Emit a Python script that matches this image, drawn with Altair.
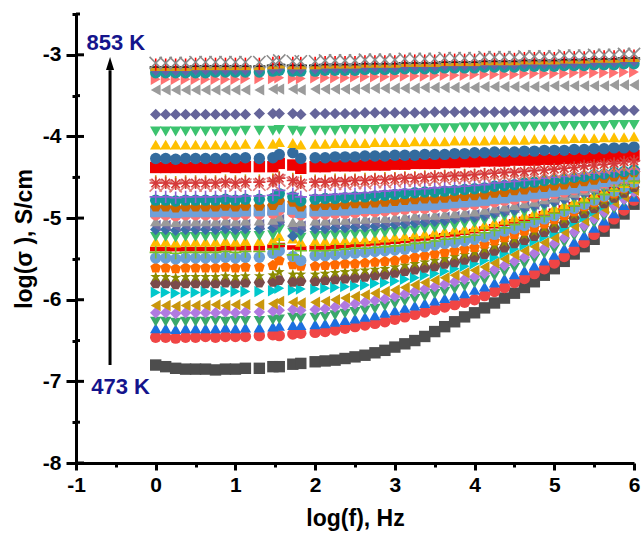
import altair as alt
import pandas as pd

FONT = "Liberation Sans"

# log(f) positions of the measured points
freq = [0.0, 0.125, 0.25, 0.375, 0.5, 0.625, 0.75, 0.875, 1.0, 1.125,
        1.3, 1.47, 1.55, 1.72, 1.82,
        2.0, 2.125, 2.25, 2.375, 2.5, 2.625, 2.75, 2.875, 3.0,
        3.125, 3.25, 3.375, 3.5, 3.625, 3.75, 3.875, 4.0,
        4.125, 4.25, 4.375, 4.5, 4.625, 4.75, 4.875, 5.0,
        5.125, 5.25, 5.375, 5.5, 5.625, 5.75, 5.875, 6.0]

# log(sigma) for each temperature, lowest (473 K) first
s01 = [-6.80, -6.82, -6.84, -6.85, -6.85, -6.85, -6.86, -6.85, -6.85, -6.84,
       -6.84, -6.82, -6.82, -6.79, -6.78,
       -6.76, -6.75, -6.74, -6.72, -6.70, -6.68, -6.65, -6.62, -6.58,
       -6.54, -6.50, -6.45, -6.39, -6.33, -6.27, -6.21, -6.16,
       -6.10, -6.04, -5.98, -5.92, -5.85, -5.78, -5.70, -5.62,
       -5.53, -5.44, -5.35, -5.26, -5.16, -5.06, -4.95, -4.83]
s02 = [-6.46, -6.46, -6.47, -6.46, -6.46, -6.45, -6.46, -6.45, -6.45, -6.45,
       -6.44, -6.43, -6.44, -6.42, -6.41,
       -6.40, -6.39, -6.37, -6.35, -6.33, -6.31, -6.29, -6.27, -6.24,
       -6.21, -6.18, -6.15, -6.12, -6.09, -6.06, -6.03, -6.00,
       -5.95, -5.90, -5.85, -5.79, -5.74, -5.68, -5.62, -5.55,
       -5.47, -5.39, -5.30, -5.20, -5.11, -5.01, -4.90, -4.78]
s03 = [-6.35, -6.35, -6.36, -6.35, -6.35, -6.35, -6.35, -6.34, -6.35, -6.34,
       -6.34, -6.33, -6.32, -6.31, -6.31,
       -6.30, -6.29, -6.27, -6.25, -6.23, -6.21, -6.19, -6.16, -6.13,
       -6.10, -6.07, -6.04, -6.01, -5.98, -5.95, -5.92, -5.88,
       -5.84, -5.79, -5.74, -5.69, -5.64, -5.58, -5.52, -5.45,
       -5.37, -5.29, -5.21, -5.12, -5.03, -4.94, -4.84, -4.74]
s04 = [-6.27, -6.27, -6.28, -6.27, -6.27, -6.27, -6.26, -6.27, -6.26, -6.26,
       -6.26, -6.25, -6.24, -6.22, -6.23,
       -6.22, -6.21, -6.19, -6.17, -6.15, -6.13, -6.11, -6.08, -6.05,
       -6.02, -5.99, -5.96, -5.93, -5.90, -5.87, -5.84, -5.80,
       -5.76, -5.71, -5.66, -5.61, -5.56, -5.50, -5.44, -5.38,
       -5.30, -5.22, -5.14, -5.06, -4.98, -4.89, -4.80, -4.71]
s05 = [-6.16, -6.16, -6.17, -6.16, -6.16, -6.16, -6.16, -6.15, -6.16, -6.15,
       -6.15, -6.14, -6.13, -6.12, -6.13,
       -6.12, -6.11, -6.09, -6.07, -6.05, -6.03, -6.01, -5.99, -5.96,
       -5.93, -5.90, -5.87, -5.84, -5.81, -5.78, -5.75, -5.72,
       -5.68, -5.63, -5.58, -5.53, -5.48, -5.43, -5.37, -5.31,
       -5.24, -5.17, -5.09, -5.01, -4.93, -4.85, -4.77, -4.68]
s06 = [-6.07, -6.07, -6.08, -6.07, -6.07, -6.07, -6.06, -6.07, -6.06, -6.06,
       -6.06, -6.05, -6.02, -6.03, -6.04,
       -6.03, -6.02, -6.00, -5.98, -5.96, -5.94, -5.92, -5.90, -5.88,
       -5.85, -5.82, -5.79, -5.76, -5.73, -5.70, -5.67, -5.64,
       -5.60, -5.55, -5.50, -5.45, -5.40, -5.35, -5.30, -5.24,
       -5.17, -5.10, -5.03, -4.96, -4.89, -4.81, -4.74, -4.66]
s07 = [-5.91, -5.91, -5.92, -5.91, -5.91, -5.90, -5.91, -5.90, -5.90, -5.90,
       -5.90, -5.89, -5.86, -5.88, -5.87,
       -5.87, -5.86, -5.85, -5.84, -5.83, -5.82, -5.80, -5.79, -5.77,
       -5.75, -5.73, -5.70, -5.68, -5.65, -5.62, -5.59, -5.56,
       -5.52, -5.48, -5.43, -5.38, -5.33, -5.28, -5.23, -5.18,
       -5.12, -5.05, -4.99, -4.92, -4.85, -4.78, -4.71, -4.64]
s08 = [-5.80, -5.80, -5.81, -5.80, -5.80, -5.80, -5.80, -5.79, -5.80, -5.79,
       -5.79, -5.78, -5.76, -5.78, -5.77,
       -5.77, -5.76, -5.75, -5.74, -5.73, -5.72, -5.70, -5.69, -5.67,
       -5.65, -5.63, -5.61, -5.59, -5.56, -5.54, -5.51, -5.48,
       -5.44, -5.40, -5.36, -5.31, -5.27, -5.22, -5.17, -5.12,
       -5.06, -5.00, -4.94, -4.88, -4.82, -4.75, -4.69, -4.62]
s09 = [-5.72, -5.72, -5.73, -5.72, -5.72, -5.72, -5.72, -5.71, -5.72, -5.71,
       -5.71, -5.70, -5.66, -5.69, -5.69,
       -5.69, -5.68, -5.67, -5.66, -5.65, -5.64, -5.63, -5.62, -5.60,
       -5.58, -5.56, -5.54, -5.52, -5.50, -5.47, -5.45, -5.42,
       -5.38, -5.34, -5.30, -5.26, -5.21, -5.17, -5.12, -5.07,
       -5.02, -4.96, -4.91, -4.85, -4.79, -4.73, -4.67, -4.60]
s10 = [-5.61, -5.61, -5.62, -5.61, -5.61, -5.61, -5.61, -5.60, -5.61, -5.60,
       -5.60, -5.58, -5.52, -5.57, -5.59,
       -5.59, -5.58, -5.57, -5.56, -5.56, -5.55, -5.54, -5.53, -5.52,
       -5.50, -5.48, -5.46, -5.44, -5.42, -5.40, -5.38, -5.36,
       -5.32, -5.28, -5.24, -5.20, -5.16, -5.12, -5.07, -5.02,
       -4.97, -4.92, -4.86, -4.81, -4.75, -4.70, -4.64, -4.58]
s11 = [-5.49, -5.49, -5.50, -5.49, -5.49, -5.49, -5.49, -5.48, -5.49, -5.48,
       -5.48, -5.43, -5.40, -5.47, -5.52,
       -5.46, -5.46, -5.45, -5.44, -5.43, -5.42, -5.41, -5.40, -5.39,
       -5.38, -5.36, -5.35, -5.33, -5.31, -5.30, -5.28, -5.26,
       -5.23, -5.20, -5.16, -5.13, -5.09, -5.05, -5.01, -4.97,
       -4.92, -4.88, -4.83, -4.78, -4.73, -4.67, -4.62, -4.56]
s12 = [-5.42, -5.42, -5.43, -5.42, -5.42, -5.42, -5.42, -5.41, -5.42, -5.41,
       -5.41, -5.38, -5.32, -5.45, -5.40,
       -5.40, -5.40, -5.39, -5.38, -5.37, -5.37, -5.36, -5.35, -5.34,
       -5.33, -5.31, -5.30, -5.28, -5.26, -5.25, -5.23, -5.21,
       -5.18, -5.15, -5.12, -5.08, -5.05, -5.01, -4.98, -4.94,
       -4.90, -4.85, -4.81, -4.76, -4.71, -4.66, -4.60, -4.55]
s13 = [-5.38, -5.38, -5.38, -5.38, -5.38, -5.38, -5.38, -5.37, -5.37, -5.37,
       -5.37, -5.35, -5.33, -5.36, -5.37,
       -5.36, -5.36, -5.35, -5.34, -5.33, -5.32, -5.31, -5.30, -5.29,
       -5.28, -5.26, -5.25, -5.23, -5.21, -5.20, -5.18, -5.16,
       -5.13, -5.10, -5.07, -5.04, -5.01, -4.98, -4.94, -4.91,
       -4.87, -4.83, -4.78, -4.74, -4.69, -4.64, -4.59, -4.54]
s14 = [-5.29, -5.29, -5.30, -5.29, -5.29, -5.29, -5.29, -5.28, -5.29, -5.28,
       -5.28, -5.27, -5.22, -5.25, -5.29,
       -5.28, -5.28, -5.27, -5.27, -5.26, -5.26, -5.25, -5.24, -5.23,
       -5.22, -5.20, -5.19, -5.17, -5.16, -5.14, -5.13, -5.11,
       -5.08, -5.05, -5.02, -4.99, -4.96, -4.93, -4.90, -4.87,
       -4.83, -4.79, -4.75, -4.71, -4.66, -4.62, -4.57, -4.52]
s15 = [-5.23, -5.23, -5.24, -5.23, -5.23, -5.23, -5.23, -5.22, -5.23, -5.22,
       -5.22, -5.21, -5.14, -5.18, -5.24,
       -5.22, -5.22, -5.21, -5.21, -5.20, -5.20, -5.19, -5.18, -5.17,
       -5.16, -5.15, -5.13, -5.12, -5.10, -5.09, -5.07, -5.06,
       -5.03, -5.00, -4.98, -4.95, -4.93, -4.90, -4.87, -4.84,
       -4.80, -4.77, -4.73, -4.69, -4.65, -4.60, -4.56, -4.51]
s16 = [-5.14, -5.14, -5.15, -5.14, -5.14, -5.14, -5.14, -5.13, -5.14, -5.13,
       -5.13, -5.12, -5.05, -5.22, -5.15,
       -5.13, -5.13, -5.12, -5.12, -5.11, -5.11, -5.10, -5.09, -5.08,
       -5.07, -5.06, -5.05, -5.04, -5.03, -5.01, -5.00, -4.99,
       -4.97, -4.94, -4.92, -4.90, -4.87, -4.85, -4.82, -4.80,
       -4.77, -4.73, -4.70, -4.66, -4.62, -4.58, -4.54, -4.50]
s17 = [-5.09, -5.09, -5.10, -5.09, -5.09, -5.09, -5.09, -5.08, -5.09, -5.08,
       -5.08, -5.07, -5.02, -5.12, -5.10,
       -5.08, -5.08, -5.07, -5.07, -5.06, -5.06, -5.05, -5.05, -5.04,
       -5.03, -5.02, -5.01, -5.00, -4.99, -4.98, -4.97, -4.96,
       -4.94, -4.92, -4.90, -4.87, -4.85, -4.83, -4.80, -4.78,
       -4.75, -4.72, -4.68, -4.65, -4.61, -4.57, -4.53, -4.49]
s18 = [-5.04, -5.04, -5.05, -5.04, -5.04, -5.04, -5.04, -5.03, -5.04, -5.03,
       -5.03, -5.02, -4.98, -5.05, -5.04,
       -5.03, -5.03, -5.02, -5.02, -5.01, -5.01, -5.00, -5.00, -4.99,
       -4.98, -4.97, -4.96, -4.96, -4.95, -4.94, -4.93, -4.92,
       -4.90, -4.88, -4.86, -4.84, -4.82, -4.80, -4.77, -4.75,
       -4.72, -4.69, -4.66, -4.63, -4.59, -4.56, -4.52, -4.48]
s19 = [-4.96, -4.96, -4.97, -4.96, -4.96, -4.96, -4.96, -4.95, -4.96, -4.95,
       -4.95, -4.94, -4.90, -4.93, -4.96,
       -4.95, -4.95, -4.94, -4.94, -4.93, -4.92, -4.92, -4.91, -4.90,
       -4.89, -4.88, -4.88, -4.87, -4.86, -4.85, -4.84, -4.83,
       -4.82, -4.80, -4.78, -4.77, -4.75, -4.74, -4.72, -4.70,
       -4.68, -4.65, -4.63, -4.60, -4.57, -4.54, -4.51, -4.47]
s20 = [-4.92, -4.92, -4.93, -4.92, -4.92, -4.92, -4.92, -4.91, -4.92, -4.91,
       -4.91, -4.90, -4.86, -4.89, -4.93,
       -4.91, -4.91, -4.90, -4.90, -4.89, -4.88, -4.88, -4.87, -4.86,
       -4.85, -4.84, -4.84, -4.83, -4.82, -4.81, -4.80, -4.79,
       -4.78, -4.76, -4.75, -4.73, -4.72, -4.70, -4.69, -4.67,
       -4.65, -4.63, -4.60, -4.58, -4.55, -4.52, -4.49, -4.46]
s21 = [-4.86, -4.86, -4.87, -4.86, -4.86, -4.86, -4.86, -4.85, -4.86, -4.85,
       -4.85, -4.84, -4.78, -4.80, -4.86,
       -4.85, -4.84, -4.84, -4.83, -4.82, -4.82, -4.81, -4.80, -4.79,
       -4.78, -4.77, -4.76, -4.76, -4.75, -4.74, -4.73, -4.72,
       -4.71, -4.69, -4.68, -4.66, -4.65, -4.63, -4.62, -4.60,
       -4.59, -4.57, -4.55, -4.53, -4.51, -4.49, -4.47, -4.44]
s22 = [-4.78, -4.78, -4.79, -4.78, -4.78, -4.78, -4.78, -4.77, -4.78, -4.77,
       -4.77, -4.76, -4.70, -4.74, -4.79,
       -4.77, -4.76, -4.76, -4.75, -4.74, -4.74, -4.73, -4.72, -4.71,
       -4.70, -4.69, -4.68, -4.68, -4.67, -4.66, -4.65, -4.64,
       -4.63, -4.61, -4.60, -4.59, -4.57, -4.56, -4.54, -4.53,
       -4.52, -4.50, -4.49, -4.47, -4.46, -4.44, -4.43, -4.41]
s23 = [-4.74, -4.74, -4.75, -4.74, -4.74, -4.74, -4.74, -4.73, -4.74, -4.73,
       -4.73, -4.72, -4.66, -4.70, -4.74,
       -4.72, -4.72, -4.71, -4.70, -4.70, -4.69, -4.68, -4.67, -4.66,
       -4.65, -4.65, -4.64, -4.63, -4.62, -4.62, -4.61, -4.60,
       -4.59, -4.57, -4.56, -4.55, -4.54, -4.53, -4.51, -4.50,
       -4.49, -4.48, -4.46, -4.45, -4.44, -4.43, -4.41, -4.40]
s24 = [-4.60, -4.60, -4.61, -4.60, -4.60, -4.60, -4.60, -4.59, -4.60, -4.59,
       -4.59, -4.58, -4.54, -4.57, -4.60,
       -4.59, -4.59, -4.58, -4.58, -4.57, -4.57, -4.56, -4.56, -4.55,
       -4.54, -4.54, -4.53, -4.53, -4.52, -4.51, -4.51, -4.50,
       -4.49, -4.48, -4.48, -4.47, -4.46, -4.45, -4.45, -4.44,
       -4.43, -4.42, -4.41, -4.40, -4.39, -4.38, -4.37, -4.36]
s25 = [-4.55, -4.55, -4.56, -4.55, -4.55, -4.55, -4.55, -4.54, -4.55, -4.54,
       -4.54, -4.53, -4.50, -4.52, -4.55,
       -4.54, -4.54, -4.53, -4.53, -4.53, -4.52, -4.52, -4.51, -4.51,
       -4.50, -4.50, -4.49, -4.49, -4.48, -4.48, -4.47, -4.47,
       -4.46, -4.46, -4.45, -4.44, -4.44, -4.43, -4.43, -4.42,
       -4.41, -4.40, -4.39, -4.38, -4.37, -4.36, -4.35, -4.34]
s26 = [-4.57, -4.57, -4.58, -4.57, -4.57, -4.57, -4.57, -4.56, -4.57, -4.56,
       -4.56, -4.55, -4.51, -4.54, -4.57,
       -4.56, -4.56, -4.55, -4.55, -4.54, -4.54, -4.53, -4.53, -4.52,
       -4.51, -4.51, -4.50, -4.49, -4.49, -4.48, -4.48, -4.47,
       -4.46, -4.45, -4.44, -4.44, -4.43, -4.42, -4.41, -4.40,
       -4.39, -4.38, -4.36, -4.35, -4.34, -4.33, -4.31, -4.30]
s27 = [-4.38, -4.38, -4.38, -4.38, -4.38, -4.38, -4.38, -4.37, -4.38, -4.37,
       -4.37, -4.37, -4.33, -4.35, -4.39,
       -4.37, -4.37, -4.36, -4.36, -4.36, -4.35, -4.35, -4.35, -4.34,
       -4.34, -4.33, -4.33, -4.33, -4.32, -4.32, -4.31, -4.31,
       -4.30, -4.30, -4.30, -4.29, -4.29, -4.29, -4.28, -4.28,
       -4.27, -4.27, -4.26, -4.26, -4.25, -4.25, -4.24, -4.23]
s28 = [-4.27, -4.27, -4.28, -4.27, -4.27, -4.27, -4.27, -4.27, -4.27, -4.26,
       -4.27, -4.26, -4.22, -4.20, -4.27,
       -4.26, -4.26, -4.25, -4.25, -4.25, -4.24, -4.24, -4.24, -4.23,
       -4.23, -4.23, -4.22, -4.22, -4.22, -4.21, -4.21, -4.20,
       -4.20, -4.19, -4.19, -4.19, -4.18, -4.18, -4.17, -4.17,
       -4.17, -4.16, -4.16, -4.15, -4.15, -4.14, -4.14, -4.13]
s29 = [-4.10, -4.10, -4.10, -4.10, -4.10, -4.10, -4.10, -4.10, -4.10, -4.09,
       -4.09, -4.09, -4.07, -4.08, -4.10,
       -4.09, -4.09, -4.08, -4.08, -4.08, -4.08, -4.07, -4.07, -4.07,
       -4.07, -4.06, -4.06, -4.06, -4.06, -4.05, -4.05, -4.05,
       -4.05, -4.04, -4.04, -4.04, -4.04, -4.03, -4.03, -4.03,
       -4.03, -4.02, -4.02, -4.02, -4.01, -4.01, -4.01, -4.00]
s30 = [-3.94, -3.94, -3.94, -3.94, -3.94, -3.94, -3.94, -3.94, -3.94, -3.93,
       -3.93, -3.93, -3.92, -3.93, -3.94,
       -3.93, -3.93, -3.93, -3.92, -3.92, -3.92, -3.92, -3.91, -3.91,
       -3.91, -3.91, -3.90, -3.90, -3.90, -3.90, -3.89, -3.89,
       -3.89, -3.89, -3.89, -3.88, -3.88, -3.88, -3.88, -3.88,
       -3.87, -3.87, -3.87, -3.87, -3.87, -3.86, -3.86, -3.86]
s31 = [-3.73, -3.73, -3.73, -3.73, -3.73, -3.73, -3.73, -3.73, -3.73, -3.73,
       -3.72, -3.72, -3.72, -3.72, -3.73,
       -3.72, -3.72, -3.72, -3.72, -3.72, -3.71, -3.71, -3.71, -3.71,
       -3.71, -3.71, -3.71, -3.70, -3.70, -3.70, -3.70, -3.70,
       -3.70, -3.70, -3.70, -3.69, -3.69, -3.69, -3.69, -3.69,
       -3.69, -3.69, -3.69, -3.68, -3.68, -3.68, -3.68, -3.68]
s32 = [-3.43, -3.43, -3.43, -3.43, -3.43, -3.43, -3.43, -3.43, -3.43, -3.43,
       -3.43, -3.42, -3.42, -3.42, -3.43,
       -3.42, -3.42, -3.42, -3.42, -3.42, -3.41, -3.41, -3.41, -3.41,
       -3.41, -3.41, -3.40, -3.40, -3.40, -3.40, -3.40, -3.40,
       -3.39, -3.39, -3.39, -3.39, -3.39, -3.39, -3.39, -3.38,
       -3.38, -3.38, -3.38, -3.38, -3.38, -3.37, -3.37, -3.37]
s33 = [-3.30, -3.30, -3.30, -3.30, -3.30, -3.30, -3.30, -3.30, -3.30, -3.29,
       -3.29, -3.29, -3.28, -3.29, -3.29,
       -3.28, -3.28, -3.28, -3.28, -3.27, -3.27, -3.27, -3.27, -3.26,
       -3.26, -3.26, -3.26, -3.25, -3.25, -3.25, -3.25, -3.24,
       -3.24, -3.24, -3.24, -3.24, -3.23, -3.23, -3.23, -3.23,
       -3.23, -3.22, -3.22, -3.22, -3.22, -3.22, -3.21, -3.21]
s34 = [-3.22, -3.22, -3.22, -3.22, -3.22, -3.22, -3.21, -3.21, -3.21, -3.21,
       -3.21, -3.20, -3.19, -3.20, -3.20,
       -3.20, -3.19, -3.19, -3.19, -3.19, -3.18, -3.18, -3.18, -3.18,
       -3.17, -3.17, -3.17, -3.17, -3.16, -3.16, -3.16, -3.16,
       -3.15, -3.15, -3.15, -3.15, -3.14, -3.14, -3.14, -3.14,
       -3.13, -3.13, -3.13, -3.12, -3.12, -3.12, -3.11, -3.11]
s35 = [-3.20, -3.20, -3.20, -3.20, -3.20, -3.19, -3.19, -3.19, -3.19, -3.19,
       -3.19, -3.18, -3.17, -3.18, -3.18,
       -3.18, -3.17, -3.17, -3.17, -3.17, -3.16, -3.16, -3.16, -3.16,
       -3.15, -3.15, -3.15, -3.15, -3.14, -3.14, -3.14, -3.14,
       -3.13, -3.13, -3.13, -3.13, -3.12, -3.12, -3.12, -3.12,
       -3.11, -3.11, -3.11, -3.10, -3.10, -3.10, -3.09, -3.09]
s36 = [-3.19, -3.19, -3.19, -3.19, -3.18, -3.18, -3.18, -3.18, -3.18, -3.18,
       -3.18, -3.17, -3.16, -3.17, -3.17,
       -3.17, -3.16, -3.16, -3.16, -3.16, -3.15, -3.15, -3.15, -3.15,
       -3.14, -3.14, -3.14, -3.14, -3.13, -3.13, -3.13, -3.13,
       -3.12, -3.12, -3.12, -3.12, -3.11, -3.11, -3.11, -3.11,
       -3.10, -3.10, -3.10, -3.09, -3.09, -3.09, -3.08, -3.08]
s37 = [-3.17, -3.17, -3.17, -3.17, -3.16, -3.16, -3.16, -3.16, -3.16, -3.16,
       -3.16, -3.15, -3.14, -3.15, -3.15,
       -3.15, -3.14, -3.14, -3.14, -3.14, -3.13, -3.13, -3.13, -3.13,
       -3.12, -3.12, -3.12, -3.12, -3.11, -3.11, -3.11, -3.11,
       -3.10, -3.10, -3.10, -3.10, -3.09, -3.09, -3.09, -3.09,
       -3.08, -3.08, -3.08, -3.07, -3.07, -3.07, -3.06, -3.06]
s38 = [-3.15, -3.15, -3.15, -3.15, -3.14, -3.14, -3.14, -3.14, -3.14, -3.14,
       -3.14, -3.13, -3.12, -3.13, -3.13,
       -3.13, -3.12, -3.12, -3.12, -3.12, -3.11, -3.11, -3.11, -3.11,
       -3.10, -3.10, -3.10, -3.10, -3.09, -3.09, -3.09, -3.09,
       -3.08, -3.08, -3.08, -3.08, -3.07, -3.07, -3.07, -3.07,
       -3.06, -3.06, -3.06, -3.05, -3.05, -3.05, -3.04, -3.04]
s39 = [-3.12, -3.12, -3.12, -3.12, -3.11, -3.11, -3.11, -3.11, -3.11, -3.11,
       -3.11, -3.10, -3.09, -3.10, -3.10,
       -3.10, -3.09, -3.09, -3.09, -3.09, -3.08, -3.08, -3.08, -3.08,
       -3.07, -3.07, -3.07, -3.07, -3.06, -3.06, -3.06, -3.06,
       -3.05, -3.05, -3.05, -3.05, -3.04, -3.04, -3.04, -3.04,
       -3.03, -3.03, -3.03, -3.02, -3.02, -3.02, -3.01, -3.01]
s40 = [-3.10, -3.10, -3.10, -3.10, -3.09, -3.09, -3.09, -3.09, -3.09, -3.09,
       -3.09, -3.08, -3.07, -3.08, -3.08,
       -3.08, -3.07, -3.07, -3.07, -3.07, -3.06, -3.06, -3.06, -3.06,
       -3.05, -3.05, -3.05, -3.05, -3.04, -3.04, -3.04, -3.04,
       -3.03, -3.03, -3.03, -3.03, -3.02, -3.02, -3.02, -3.02,
       -3.01, -3.01, -3.01, -3.00, -3.00, -3.00, -2.99, -2.99]

series_values = [s01, s02, s03, s04, s05, s06, s07, s08, s09, s10,
                 s11, s12, s13, s14, s15, s16, s17, s18, s19, s20,
                 s21, s22, s23, s24, s25, s26, s27, s28, s29, s30,
                 s31, s32, s33, s34, s35, s36, s37, s38, s39, s40]

series_colors = ["#4d4d4d", "#f04545", "#1c6fe0", "#3aa86b", "#b07ae0",
                 "#c9960c", "#00c8cc", "#7b4b4b", "#8c8c00", "#ff6a00",
                 "#6b9fd6", "#78c22a", "#ee0000", "#ffbb00", "#3dbd6d",
                 "#3b6ea8", "#6a6aa6", "#9a9a9a", "#ff7373", "#6fa0d8",
                 "#cc6600", "#129797", "#8b5fd6", "#e07c7c", "#c99a00",
                 "#d63a3a", "#ee0000", "#336b9e", "#ffc000", "#3cc36f",
                 "#65659a", "#9b9b9b", "#ff7171", "#1a9a9a", "#4a7fc8",
                 "#6464a8", "#d4a017", "#222222", "#ff0000", "#8c8c8c"]

HEX = "M-1,0L-0.5,-0.87L0.5,-0.87L1,0L0.5,0.87L-0.5,0.87Z"
PENT = "M0,-1L0.95,-0.31L0.59,0.81L-0.59,0.81L-0.95,-0.31Z"
STAR = ("M0,-1L0.24,-0.33L0.95,-0.31L0.38,0.12L0.59,0.81L0,0.4L-0.59,0.81"
        "L-0.38,0.12L-0.95,-0.31L-0.24,-0.33Z")
BAR = "M-1,-0.4L1,-0.4L1,0.4L-1,0.4Z"
PLUS = "M-1,0L1,0M0,-1L0,1"
XSH = "M-1,-1L1,1M-1,1L1,-1"
AST = "M-1,0L1,0M0,-1L0,1M-0.7,-0.7L0.7,0.7M-0.7,0.7L0.7,-0.7"
VBAR = "M0,-1L0,1"
MINUS = "M-1,0L1,0"

series_shapes = ["square", "circle", "triangle-up", "triangle-down", "diamond",
                 "triangle-left", "triangle-right", HEX, STAR, PENT,
                 "circle", PLUS, BAR, "triangle-up", "triangle-down",
                 "diamond", "triangle-left", "triangle-up", "circle", "square",
                 HEX, "circle", PLUS, XSH, VBAR,
                 AST, "square", "circle", "triangle-up", "triangle-down",
                 "diamond", "triangle-left", "triangle-right", "circle", "triangle-down",
                 "diamond", BAR, MINUS, VBAR, XSH]

stroked_shapes = {PLUS, XSH, AST, VBAR, MINUS}

ids = [f"s{i + 1:02d}" for i in range(len(series_values))]
rows = []
for sid, vals, shp in zip(ids, series_values, series_shapes):
    for f, v in zip(freq, vals):
        rows.append({"f": f, "v": v, "s": sid, "stroked": shp in stroked_shapes})
df = pd.DataFrame(rows)

# annotation values
arrow_x = [-0.573]
arrow_y0 = [-6.80]
arrow_y1 = [-3.19]
head_y = [-3.107]
labels = ["853 K", "473 K"]
label_x = [-0.50, -0.44]
label_y = [-2.855, -7.07]
major_y = [-8, -7, -6, -5, -4, -3]
minor_y = [-7.5, -6.5, -5.5, -4.5, -3.5, -2.5]
major_x = [-1, 0, 1, 2, 3, 4, 5, 6]
minor_x = [-0.5, 0.5, 1.5, 2.5, 3.5, 4.5, 5.5]

XS = alt.Scale(domain=[-1, 6], nice=False, zero=False)
YS = alt.Scale(domain=[-8, -2.5], nice=False, zero=False)
color_scale = alt.Scale(domain=ids, range=series_colors)
shape_scale = alt.Scale(domain=ids, range=series_shapes)

common_axis = dict(grid=False, domainColor="black", domainWidth=3,
                   tickColor="black", tickWidth=3, labelFont=FONT,
                   labelColor="black", labelFontWeight="bold",
                   titleFont=FONT, titleColor="black", titleFontWeight="bold",
                   labelFlush=False)

x_major_axis = alt.Axis(orient="bottom", values=major_x, tickSize=7,
                        labelExpr="toString(datum.value)", labelFontSize=21,
                        labelPadding=4, title="log(f), Hz", titleFontSize=23,
                        titlePadding=12, **common_axis)
y_major_axis = alt.Axis(orient="left", values=major_y, tickSize=10,
                        labelExpr="toString(datum.value)", labelFontSize=21,
                        labelPadding=5, title="log(σ ), S/cm", titleFontSize=23,
                        titlePadding=6, **common_axis)
x_minor_axis = alt.Axis(orient="bottom", values=minor_x, tickSize=4, labels=False,
                        title=None, domain=False, grid=False, tickColor="black",
                        tickWidth=3)
y_minor_axis = alt.Axis(orient="left", values=minor_y, tickSize=4, labels=False,
                        title=None, domain=False, grid=False, tickColor="black",
                        tickWidth=3)

base = alt.Chart(df)

filled = base.transform_filter("!datum.stroked").mark_point(
    filled=True, size=130, opacity=1, strokeWidth=0
).encode(
    x=alt.X("f:Q", scale=XS, axis=x_major_axis),
    y=alt.Y("v:Q", scale=YS, axis=y_major_axis),
    color=alt.Color("s:N", scale=color_scale, legend=None),
    shape=alt.Shape("s:N", scale=shape_scale, legend=None),
)

stroked = base.transform_filter("datum.stroked").mark_point(
    filled=False, size=150, opacity=1, strokeWidth=1.6
).encode(
    x=alt.X("f:Q", scale=XS, axis=None),
    y=alt.Y("v:Q", scale=YS, axis=None),
    color=alt.Color("s:N", scale=color_scale, legend=None),
    shape=alt.Shape("s:N", scale=shape_scale, legend=None),
)

minor_df = pd.DataFrame({"mx": minor_x, "my": minor_y + [minor_y[-1]]})
minor_axes = alt.Chart(minor_df).mark_point(opacity=0).encode(
    x=alt.X("mx:Q", scale=XS, axis=x_minor_axis),
    y=alt.Y("my:Q", scale=YS, axis=y_minor_axis),
)

inner_major = alt.Chart(pd.DataFrame({"t": major_y})).mark_rule(
    color="black", strokeWidth=3
).encode(y=alt.Y("t:Q", scale=YS, axis=None), x=alt.value(0), x2=alt.value(8))
inner_minor = alt.Chart(pd.DataFrame({"t": minor_y})).mark_rule(
    color="black", strokeWidth=3
).encode(y=alt.Y("t:Q", scale=YS, axis=None), x=alt.value(0), x2=alt.value(4))

arrow_df = pd.DataFrame({"x": arrow_x, "y0": arrow_y0, "y1": arrow_y1, "hy": head_y})
arrow_line = alt.Chart(arrow_df).mark_rule(color="black", strokeWidth=3).encode(
    x=alt.X("x:Q", scale=XS, axis=None),
    y=alt.Y("y0:Q", scale=YS, axis=None),
    y2="y1:Q",
)
arrow_head = alt.Chart(arrow_df).mark_point(
    shape="M0,-1L0.62,1L-0.62,1Z", size=169, filled=True, color="black", opacity=1
).encode(
    x=alt.X("x:Q", scale=XS, axis=None),
    y=alt.Y("hy:Q", scale=YS, axis=None),
)

text_df = pd.DataFrame({"t": labels, "x": label_x, "y": label_y})
texts = alt.Chart(text_df).mark_text(
    font=FONT, fontSize=22, fontWeight="bold", color="#14148c",
    align="center", baseline="middle"
).encode(
    x=alt.X("x:Q", scale=XS, axis=None),
    y=alt.Y("y:Q", scale=YS, axis=None),
    text="t:N",
)

chart = alt.layer(
    filled, stroked, minor_axes, inner_major, inner_minor,
    arrow_line, arrow_head, texts
).resolve_axis(
    x="independent", y="independent"
).properties(
    width=558, height=449,
    autosize=alt.AutoSizeParams(type="none"),
    padding={"left": 76, "top": 14, "right": 9, "bottom": 75},
    background="white",
).configure_view(stroke=None)

chart.save("out.html", embed_options={"renderer": "svg", "actions": False})
